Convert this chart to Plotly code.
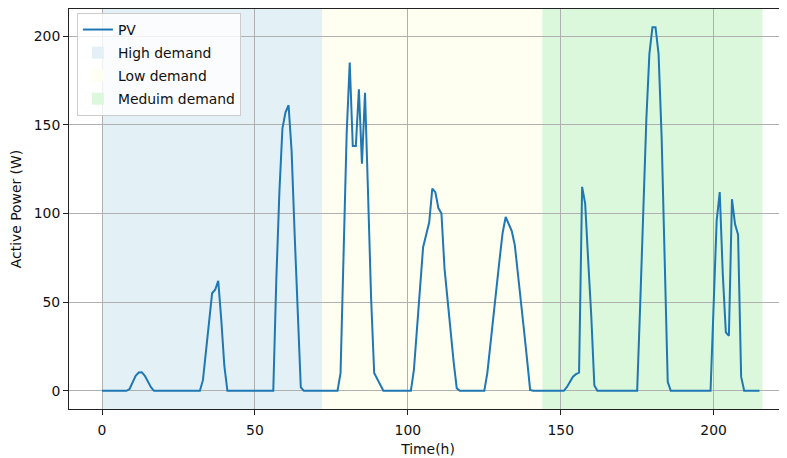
import plotly.graph_objects as go

# ---- data ----
hours = list(range(216))
pv = [0]*216
pv_points = {
    9: 1, 10: 5, 11: 8.5, 12: 10.3, 13: 10.5, 14: 8.5, 15: 5, 16: 2,
    33: 6, 34: 23, 35: 39, 36: 55, 37: 57, 38: 62, 39: 40, 40: 14,
    57: 63, 58: 112, 59: 148, 60: 157, 61: 161, 62: 135, 63: 88, 64: 42, 65: 2,
    78: 10, 79: 73, 80: 145, 81: 185, 82: 138, 83: 138, 84: 170, 85: 128, 86: 168,
    87: 111, 88: 52, 89: 10, 90: 6.5, 91: 3,
    102: 12, 103: 36, 104: 59, 105: 81, 106: 88, 107: 95, 108: 114, 109: 112,
    110: 103, 111: 100, 112: 69, 113: 51, 114: 33, 115: 16, 116: 1.5,
    126: 10, 127: 25, 128: 41, 129: 58, 130: 74, 131: 89, 132: 98, 133: 94,
    134: 90, 135: 82, 136: 67, 137: 50, 138: 34, 139: 17.6, 140: 0.5,
    152: 2, 153: 5, 154: 8, 155: 9.4, 156: 10.3, 157: 115, 158: 105.5, 159: 73,
    160: 42, 161: 3,
    176: 49, 177: 108, 178: 153, 179: 190, 180: 205, 181: 205, 182: 190, 183: 143,
    184: 68, 185: 5,
    200: 48, 201: 96, 202: 112, 203: 66, 204: 33, 205: 31, 206: 108, 207: 94,
    208: 88, 209: 8,
}
for h, v in pv_points.items():
    pv[h] = v

region_names = ["High demand", "Low demand", "Meduim demand"]
region_start = [0, 72, 144]
region_end = [72, 144, 216]
region_colors = ["#e3f1f6", "#fefef1", "#dcf8dc"]

x_ticks = [0, 50, 100, 150, 200]
y_ticks = [0, 50, 100, 150, 200]

FONT = "DejaVu Sans"
FS = 13.9

fig = go.Figure()
fig.add_trace(go.Scatter(x=hours, y=pv, mode="lines", name="PV", legendgroup="g0",
                         line=dict(color="#1f77b4", width=2), legendrank=1))

for i, (n, s, e, c) in enumerate(zip(region_names, region_start, region_end, region_colors)):
    fig.add_shape(type="rect", xref="x", yref="paper", x0=s, x1=e, y0=0, y1=1,
                  fillcolor=c, line=dict(width=0), layer="below",
                  showlegend=True, name=n, legendrank=2 + i, legendgroup="g%d" % (i + 1))

axis_common = dict(
    showgrid=True, gridcolor="#b0b0b0", gridwidth=1,
    showline=True, linecolor="#222222", linewidth=1,
    ticks="outside", ticklen=5, tickwidth=1, tickcolor="#222222",
    zeroline=False, automargin=False,
    tickfont=dict(family=FONT, size=FS, color="#111111"),
)

# page body has an 8px margin, so the figure is sized/offset to compensate
fig.update_layout(
    width=779, height=450,
    margin=dict(l=61, r=0, t=1, b=49),
    plot_bgcolor="white", paper_bgcolor="white",
    font=dict(family=FONT, size=FS, color="#111111"),
    xaxis=dict(range=[-10.8, 224.0], tickvals=x_ticks, mirror=True, ticklabelstandoff=3,
               title=dict(text="Time(h)", font=dict(family=FONT, size=FS), standoff=7),
               **axis_common),
    yaxis=dict(range=[-10.25, 215.25], tickvals=y_ticks, mirror=False,
               title=dict(text="Active Power (W)", font=dict(family=FONT, size=FS), standoff=8),
               **axis_common),
    legend=dict(x=0.011, y=0.99, xanchor="left", yanchor="top",
                bgcolor="rgba(255,255,255,0.8)", bordercolor="#cccccc", borderwidth=1,
                traceorder="grouped", tracegroupgap=2,
                font=dict(family=FONT, size=FS, color="#111111")),
)

fig.write_html("out.html")
